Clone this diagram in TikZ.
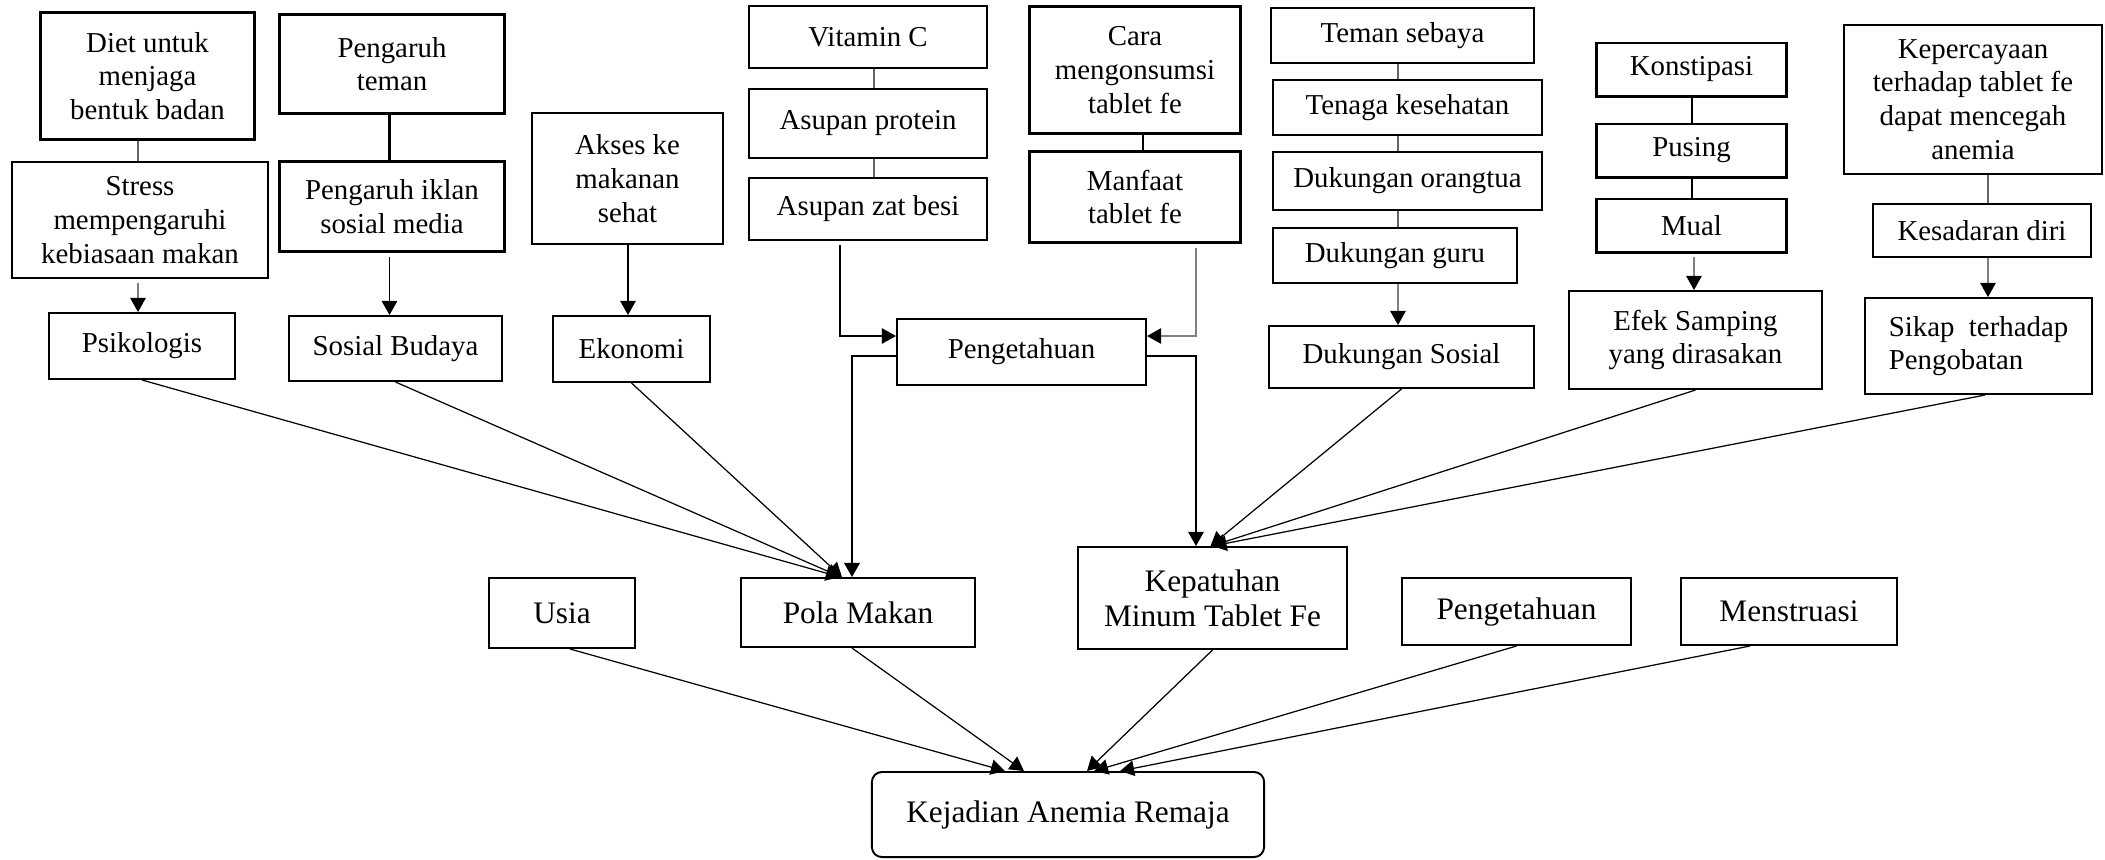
\documentclass[tikz,border=0pt]{standalone}
\usepackage{fontspec}
\setmainfont{Liberation Serif}
\usetikzlibrary{arrows.meta,calc}
\begin{document}
\begin{tikzpicture}[x=0.01cm,y=-0.01cm,
 bx/.style={draw=black, line width=0.55pt, inner sep=0pt, align=center, font=\fontsize{8.2}{9.6}\selectfont},
 bxk/.style={bx, line width=0.85pt},
 bb/.style={bx, font=\fontsize{8.9}{10}\selectfont},
 ln/.style={line width=0.35pt, draw=black!60},
 lnk/.style={line width=0.7pt, draw=black},
 arr/.style={line width=0.35pt, draw=black, -{Triangle[length=4pt,width=4.4pt,color=black]}},
 garr/.style={arr, draw=black!50},
 ]
\useasboundingbox (0,0) rectangle (2105,859);

% helper x positions
\coordinate (xa) at (138,0);
\coordinate (xb) at (389.5,0);
\coordinate (xc) at (628,0);
\coordinate (xd) at (874,0);
\coordinate (xe) at (840,0);
\coordinate (xf) at (1143,0);
\coordinate (xg) at (1196,0);
\coordinate (xh) at (1398,0);
\coordinate (xi) at (1692,0);
\coordinate (xk) at (1694,0);
\coordinate (xj) at (1988,0);

% top groups
\node[bxk, minimum width=2.13cm, minimum height=1.26cm] (diet) at (147.5,76) {Diet untuk\\menjaga\\bentuk badan};
\node[bx, minimum width=2.56cm, minimum height=1.16cm] (stress) at (140,220) {Stress\\mempengaruhi\\kebiasaan makan};
\node[bx, minimum width=1.86cm, minimum height=0.66cm] (psiko) at (142,346) {Psikologis};

\node[bxk, minimum width=2.24cm, minimum height=0.98cm] (teman) at (392,64) {Pengaruh\\teman};
\node[bxk, minimum width=2.24cm, minimum height=0.89cm] (iklan) at (392,206.5) {Pengaruh iklan\\sosial media};
\node[bx, minimum width=2.13cm, minimum height=0.65cm] (sosbud) at (395.5,348.5) {Sosial Budaya};

\node[bx, minimum width=1.91cm, minimum height=1.31cm] (akses) at (627.5,178.5) {Akses ke\\makanan\\sehat};
\node[bx, minimum width=1.57cm, minimum height=0.66cm] (ekonomi) at (631.5,349) {Ekonomi};

\node[bx, minimum width=2.38cm, minimum height=0.62cm] (vitc) at (868,37) {Vitamin C};
\node[bx, minimum width=2.38cm, minimum height=0.69cm] (protein) at (868,123.5) {Asupan protein};
\node[bx, minimum width=2.38cm, minimum height=0.62cm] (besi) at (868,209) {Asupan zat besi};

\node[bxk, minimum width=2.10cm, minimum height=1.26cm] (cara) at (1135,70) {Cara\\mengonsumsi\\tablet fe};
\node[bxk, minimum width=2.10cm, minimum height=0.90cm] (manfaat) at (1135,197) {Manfaat\\tablet fe};

\node[bx, minimum width=2.49cm, minimum height=0.66cm] (peng1) at (1021.5,352) {Pengetahuan};

\node[bx, minimum width=2.63cm, minimum height=0.55cm] (sebaya) at (1402.5,35.5) {Teman sebaya};
\node[bx, minimum width=2.69cm, minimum height=0.55cm] (tenaga) at (1407.5,107.5) {Tenaga kesehatan};
\node[bx, minimum width=2.69cm, minimum height=0.58cm] (ortu) at (1407.5,181) {Dukungan orangtua};
\node[bx, minimum width=2.44cm, minimum height=0.55cm] (guru) at (1395,255.5) {Dukungan guru};
\node[bx, minimum width=2.65cm, minimum height=0.62cm] (dsosial) at (1401.5,357) {Dukungan Sosial};

\node[bxk, minimum width=1.89cm, minimum height=0.53cm] (konst) at (1691.5,69.5) {Konstipasi};
\node[bxk, minimum width=1.89cm, minimum height=0.53cm] (pusing) at (1691.5,150.5) {Pusing};
\node[bxk, minimum width=1.89cm, minimum height=0.53cm] (mual) at (1691.5,225.5) {Mual};
\node[bx, minimum width=2.53cm, minimum height=0.98cm] (efek) at (1695.5,340) {Efek Samping\\yang dirasakan};

\node[bx, minimum width=2.58cm, minimum height=1.49cm] (percaya) at (1973,99.5) {Kepercayaan\\terhadap tablet fe\\dapat mencegah\\anemia};
\node[bx, minimum width=2.18cm, minimum height=0.53cm] (sadar) at (1982,230.5) {Kesadaran diri};
\node[bx, align=left, minimum width=2.27cm, minimum height=0.96cm] (sikap) at (1978.5,346) {Sikap\ \ terhadap\\Pengobatan};

% middle row
\node[bb, minimum width=1.46cm, minimum height=0.70cm] (usia) at (562,613) {Usia};
\node[bb, minimum width=2.34cm, minimum height=0.69cm] (pola) at (858,612.5) {Pola Makan};
\node[bb, minimum width=2.69cm, minimum height=1.02cm] (patuh) at (1212.5,598) {Kepatuhan\\Minum Tablet Fe};
\node[bb, minimum width=2.29cm, minimum height=0.67cm] (peng2) at (1516.5,611.5) {Pengetahuan};
\node[bb, minimum width=2.16cm, minimum height=0.67cm] (mens) at (1789,611.5) {Menstruasi};

% bottom
\node[bb, rounded corners=0.1cm, minimum width=3.92cm, minimum height=0.85cm] (kejadian) at (1068,814.5) {Kejadian Anemia Remaja};

% vertical chains
\draw[ln] (diet.south -| xa) -- (stress.north -| xa);
\draw[garr, shorten <=1.2pt] (stress.south -| xa) -- (psiko.north -| xa);
\draw[lnk] (teman.south -| xb) -- (iklan.north -| xb);
\draw[arr, shorten <=1.2pt] (iklan.south -| xb) -- (sosbud.north -| xb);
\draw[arr] (akses.south -| xc) -- (ekonomi.north -| xc);
\draw[ln] (vitc.south -| xd) -- (protein.north -| xd);
\draw[ln] (protein.south -| xd) -- (besi.north -| xd);
\draw[arr, shorten <=1.2pt] (besi.south -| xe) |- ([yshift=0.16cm]peng1.west);
\draw[lnk] (cara.south -| xf) -- (manfaat.north -| xf);
\draw[garr, shorten <=1.2pt] (manfaat.south -| xg) |- ([yshift=0.16cm]peng1.east);
\draw[arr, line width=0.55pt] ([yshift=-0.04cm]peng1.west) -| ([xshift=-0.06cm]pola.north);
\draw[arr] ([yshift=-0.04cm]peng1.east) -| ([xshift=-0.165cm]patuh.north);
\draw[ln] (sebaya.south -| xh) -- (tenaga.north -| xh);
\draw[ln] (tenaga.south -| xh) -- (ortu.north -| xh);
\draw[ln] (ortu.south -| xh) -- (guru.north -| xh);
\draw[garr] (guru.south -| xh) -- (dsosial.north -| xh);
\draw[lnk] (konst.south -| xi) -- (pusing.north -| xi);
\draw[lnk] (pusing.south -| xi) -- (mual.north -| xi);
\draw[garr, shorten <=1pt] (mual.south -| xk) -- (efek.north -| xk);
\draw[ln] (percaya.south -| xj) -- (sadar.north -| xj);
\draw[garr] (sadar.south -| xj) -- (sikap.north -| xj);

% diagonals to middle row
\draw[arr] (psiko.south) -- ([xshift=-0.18cm]pola.north);
\draw[arr] (sosbud.south) -- ([xshift=-0.17cm]pola.north);
\draw[arr] (ekonomi.south) -- ([xshift=-0.16cm]pola.north);
\draw[arr] (dsosial.south) -- ([xshift=-0.02cm]patuh.north);
\draw[arr] (efek.south) -- ([xshift=-0.01cm]patuh.north);
\draw[arr] ([xshift=0.065cm]sikap.south) -- (patuh.north);

% to bottom
\draw[arr] ([xshift=0.08cm]usia.south) -- ([xshift=-0.63cm]kejadian.north);
\draw[arr] ([xshift=-0.06cm]pola.south) -- ([xshift=-0.44cm]kejadian.north);
\draw[arr] (patuh.south) -- ([xshift=0.19cm]kejadian.north);
\draw[arr] (peng2.south) -- ([xshift=0.26cm]kejadian.north);
\draw[arr] ([xshift=-0.39cm]mens.south) -- ([xshift=0.52cm]kejadian.north);
\end{tikzpicture}
\end{document}
